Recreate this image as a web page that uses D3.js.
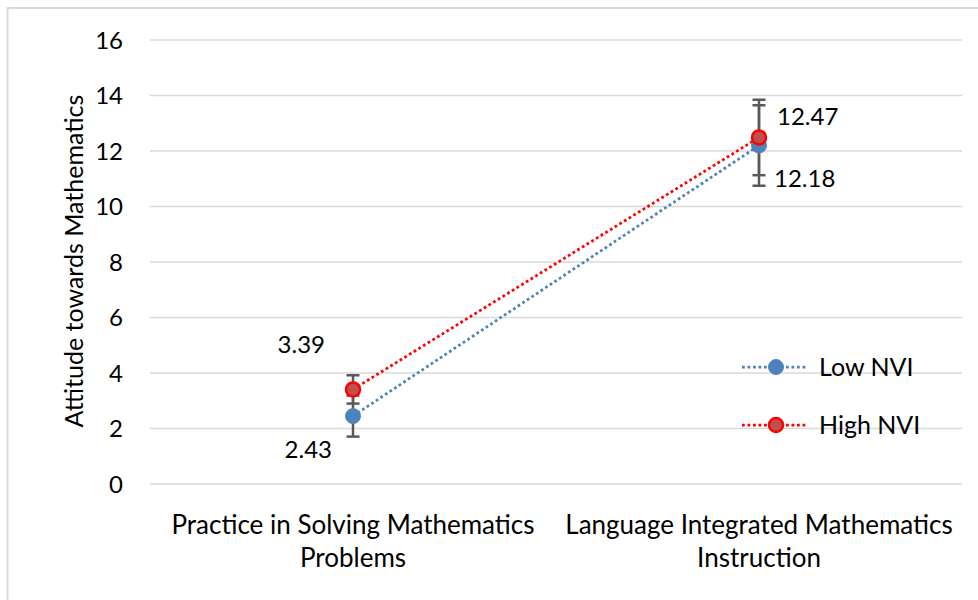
<!DOCTYPE html>
<html><head><meta charset="utf-8">
<script src="https://cdn.jsdelivr.net/npm/d3@7"></script>
<style>
html,body{margin:0;padding:0;background:#fff;}
svg{display:block;font-family:Lato,"Open Sans",sans-serif;}
</style></head>
<body><svg id="c" width="978" height="600"></svg>
<script>
const categories = [["Practice in Solving Mathematics","Problems"],["Language Integrated Mathematics","Instruction"]];
const catKeys = ["Practice","Language"];
const yTicks = [0,2,4,6,8,10,12,14,16];
const seriesNames = ["Low NVI","High NVI"];
const lowValues = [2.43, 12.18];
const lowErrors = [0.74, 1.45];
const highValues = [3.39, 12.47];
const highErrors = [0.51, 1.36];

const svg = d3.select("#c");
const x = d3.scaleBand().domain(catKeys).range([150, 962]);
const cx = k => x(k) + x.bandwidth()/2;
const y = d3.scaleLinear().domain([0,16]).range([483.5, 39.5]);

// chart border (top & left visible)
svg.append("rect").attr("x",7.5).attr("y",8).attr("width",1100).attr("height",800)
  .attr("fill","none").attr("stroke","#D9D9D9").attr("stroke-width",2);

// gridlines + tick labels
const yAxis = d3.axisLeft(y).tickValues(yTicks).tickSize(-(962-150)).tickPadding(27).tickFormat(d3.format("d"));
const ga = svg.append("g").attr("transform","translate(150,0)").call(yAxis);
ga.select(".domain").remove();
ga.selectAll(".tick line").attr("stroke","#D9D9D9").attr("stroke-width",1.5);
ga.selectAll(".tick text").attr("font-size",24).attr("fill","#000").attr("font-family","Lato").attr("dy","0.36em");

// y axis title
svg.append("text").attr("transform","translate(83,261) rotate(-90)")
  .attr("text-anchor","middle").attr("font-size",25).attr("fill","#000").text("Attitude towards Mathematics");

// category labels
categories.forEach((lines,i)=>{
  const t = svg.append("text").attr("text-anchor","middle").attr("font-size",26).attr("fill","#000");
  lines.forEach((l,j)=>{
    t.append("tspan").attr("x",cx(catKeys[i])).attr("y",534 + j*33).text(l);
  });
});

const series = [
  {name:seriesNames[0], vals:lowValues, errs:lowErrors, line:"#4F81BD", fill:"#4F81BD", stroke:"#4F81BD"},
  {name:seriesNames[1], vals:highValues, errs:highErrors, line:"#FF0000", fill:"#C0504D", stroke:"#FF0000"}
];

// lines
const lineGen = d3.line().x((d,i)=>cx(catKeys[i])).y(d=>y(d));
series.forEach(s=>{
  svg.append("path").attr("d",lineGen(s.vals)).attr("fill","none")
    .attr("stroke",s.line).attr("stroke-width",2.75).attr("stroke-dasharray","2.75,2.75");
});

// error bars
series.forEach(s=>{
  s.vals.forEach((v,i)=>{
    const X = cx(catKeys[i]);
    const g = svg.append("g").attr("stroke","#595959").attr("stroke-width",2.5);
    g.append("line").attr("x1",X).attr("x2",X).attr("y1",y(v-s.errs[i])).attr("y2",y(v+s.errs[i]));
    [v-s.errs[i], v+s.errs[i]].forEach(e=>{
      g.append("line").attr("x1",X-6.5).attr("x2",X+6.5).attr("y1",y(e)).attr("y2",y(e));
    });
  });
});

// markers
series.forEach(s=>{
  s.vals.forEach((v,i)=>{
    svg.append("circle").attr("cx",cx(catKeys[i])).attr("cy",y(v)).attr("r",s.name==="High NVI"?7:7.5)
      .attr("fill",s.fill).attr("stroke",s.stroke).attr("stroke-width",s.name==="High NVI"?2.5:1);
  });
});

// data labels
const fmt = d3.format(".2f");
const labelOffsets = [
  [{dx:-21,dy:42,a:"end"},{dx:15,dy:41,a:"start"}],
  [{dx:-28,dy:-36,a:"end"},{dx:18,dy:-12.5,a:"start"}]
];
series.forEach((s,si)=>{
  s.vals.forEach((v,i)=>{
    const o = labelOffsets[si][i];
    svg.append("text").attr("x",cx(catKeys[i])+o.dx).attr("y",y(v)+o.dy)
      .attr("text-anchor",o.a).attr("font-size",24).attr("fill","#000").text(fmt(v));
  });
});

// legend
series.forEach((s,i)=>{
  const ly = 367 + i*58;
  svg.append("line").attr("x1",742).attr("x2",808).attr("y1",ly).attr("y2",ly)
    .attr("stroke",s.line).attr("stroke-width",2.75).attr("stroke-dasharray","2.75,2.75");
  svg.append("circle").attr("cx",776).attr("cy",ly).attr("r",s.name==="High NVI"?7:7.5)
    .attr("fill",s.fill).attr("stroke",s.stroke).attr("stroke-width",s.name==="High NVI"?2.5:1);
  svg.append("text").attr("x",819).attr("y",ly+9).attr("font-size",25).attr("fill","#000").text(s.name);
});
</script></body></html>
